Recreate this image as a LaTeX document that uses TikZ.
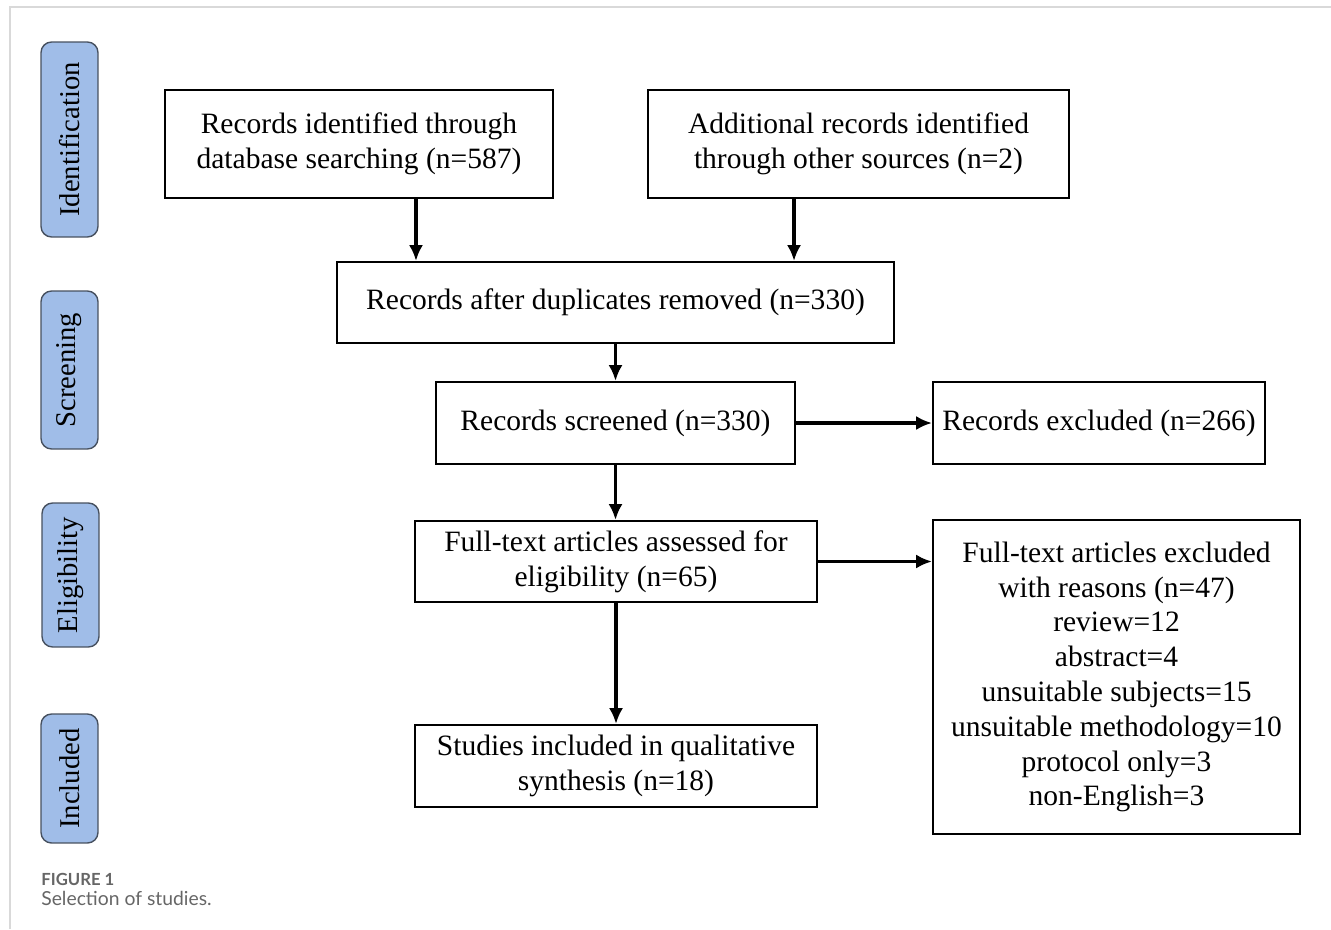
\documentclass[tikz,border=0pt]{standalone}
\usepackage{fontspec}
\setmainfont{Liberation Serif}
\newfontfamily\capfont{Lato}
\usetikzlibrary{arrows.meta}
\definecolor{phaseblue}{RGB}{160,189,232}
\definecolor{phaseedge}{RGB}{70,80,95}
\definecolor{capgray}{RGB}{102,102,102}
\tikzset{
	box/.style={rectangle, draw, line width=1.2pt, align=center, inner sep=2pt,
		font=\fontsize{16.8}{19.8}\selectfont},
	phase/.style={rectangle, draw=phaseedge, line width=0.8pt, fill=phaseblue,
		rounded corners=6pt, rotate=90, minimum height=1.14cm,
		font=\fontsize{16.3}{19}\selectfont},
	arr/.style={-{Latex[length=9pt,width=8pt]}, line width=1.9pt}
}
\begin{document}
\begin{tikzpicture}[x=0.02cm, y=-0.02cm]
	
	\useasboundingbox (0,0) rectangle (1331,929);
	\draw[black!15, line width=1.2pt] (10,929) -- (10,7) -- (1331,7);
	
	%Phases
	\node (Ident) at (69.5,139.5) [phase, minimum width=3.9cm]{Identification};
	\node (Screen) at (69.5,370) [phase, minimum width=3.16cm]{Screening};
	\node (Elig) at (70.5,575) [phase, minimum width=2.88cm]{Eligibility};
	\node (Incl) at (69.5,778.5) [phase, minimum width=2.58cm]{Included};
	
	%Nodes
	\node (Database) at (359,144) [box, minimum width=7.76cm, minimum height=2.16cm]
	{Records identified through\\database searching (n=587)};
	\node (Other) at (858.5,144) [box, minimum width=8.42cm, minimum height=2.16cm]
	{Additional records identified\\through other sources (n=2)};
	\node (Duplicates) at (615.5,302.5) [box, minimum width=11.14cm, minimum height=1.62cm]
	{Records after duplicates removed (n=330)};
	\node (Screened) at (615.5,423) [box, minimum width=7.18cm, minimum height=1.64cm]
	{Records screened (n=330)};
	\node (Excluded) at (1099,423) [box, minimum width=6.64cm, minimum height=1.64cm]
	{Records excluded (n=266)};
	\node (FullText) at (616,561.5) [box, minimum width=8.04cm, minimum height=1.62cm]
	{Full-text articles assessed for\\eligibility (n=65)};
	\node (FTExcluded) at (1116.5,677) [box, minimum width=7.34cm, minimum height=6.28cm]
	{Full-text articles excluded\\with reasons (n=47)\\review=12\\abstract=4\\
		unsuitable subjects=15\\unsuitable methodology=10\\protocol only=3\\non-English=3};
	\node (Studies) at (616,766) [box, minimum width=8.04cm, minimum height=1.64cm]
	{Studies included in qualitative\\synthesis (n=18)};
	
	%Links
	\draw[arr] ([xshift=1.14cm]Database.south) -- ([xshift=1.14cm]Database.south |- Duplicates.north);
	\draw[arr] ([xshift=-1.29cm]Other.south) -- ([xshift=-1.29cm]Other.south |- Duplicates.north);
	\draw[arr] (Duplicates.south) -- (Duplicates.south |- Screened.north);
	\draw[arr] (Screened.east) -- (Screened.east -| Excluded.west);
	\draw[arr] (Screened.south) -- (Screened.south |- FullText.north);
	\draw[arr] (FullText.east) -- (FullText.east -| FTExcluded.west);
	\draw[arr] (FullText.south) -- (FullText.south |- Studies.north);
	
	%Caption
	\node (FigNum) at (41,879) [anchor=west, inner sep=0pt, text=capgray,
	font=\capfont\bfseries\fontsize{9.5}{11}\selectfont]{FIGURE 1};
	\node (FigText) at (41,898) [anchor=west, inner sep=0pt, text=capgray,
	font=\capfont\fontsize{11}{13}\selectfont]{Selection of studies.};
	
\end{tikzpicture}
\end{document}
